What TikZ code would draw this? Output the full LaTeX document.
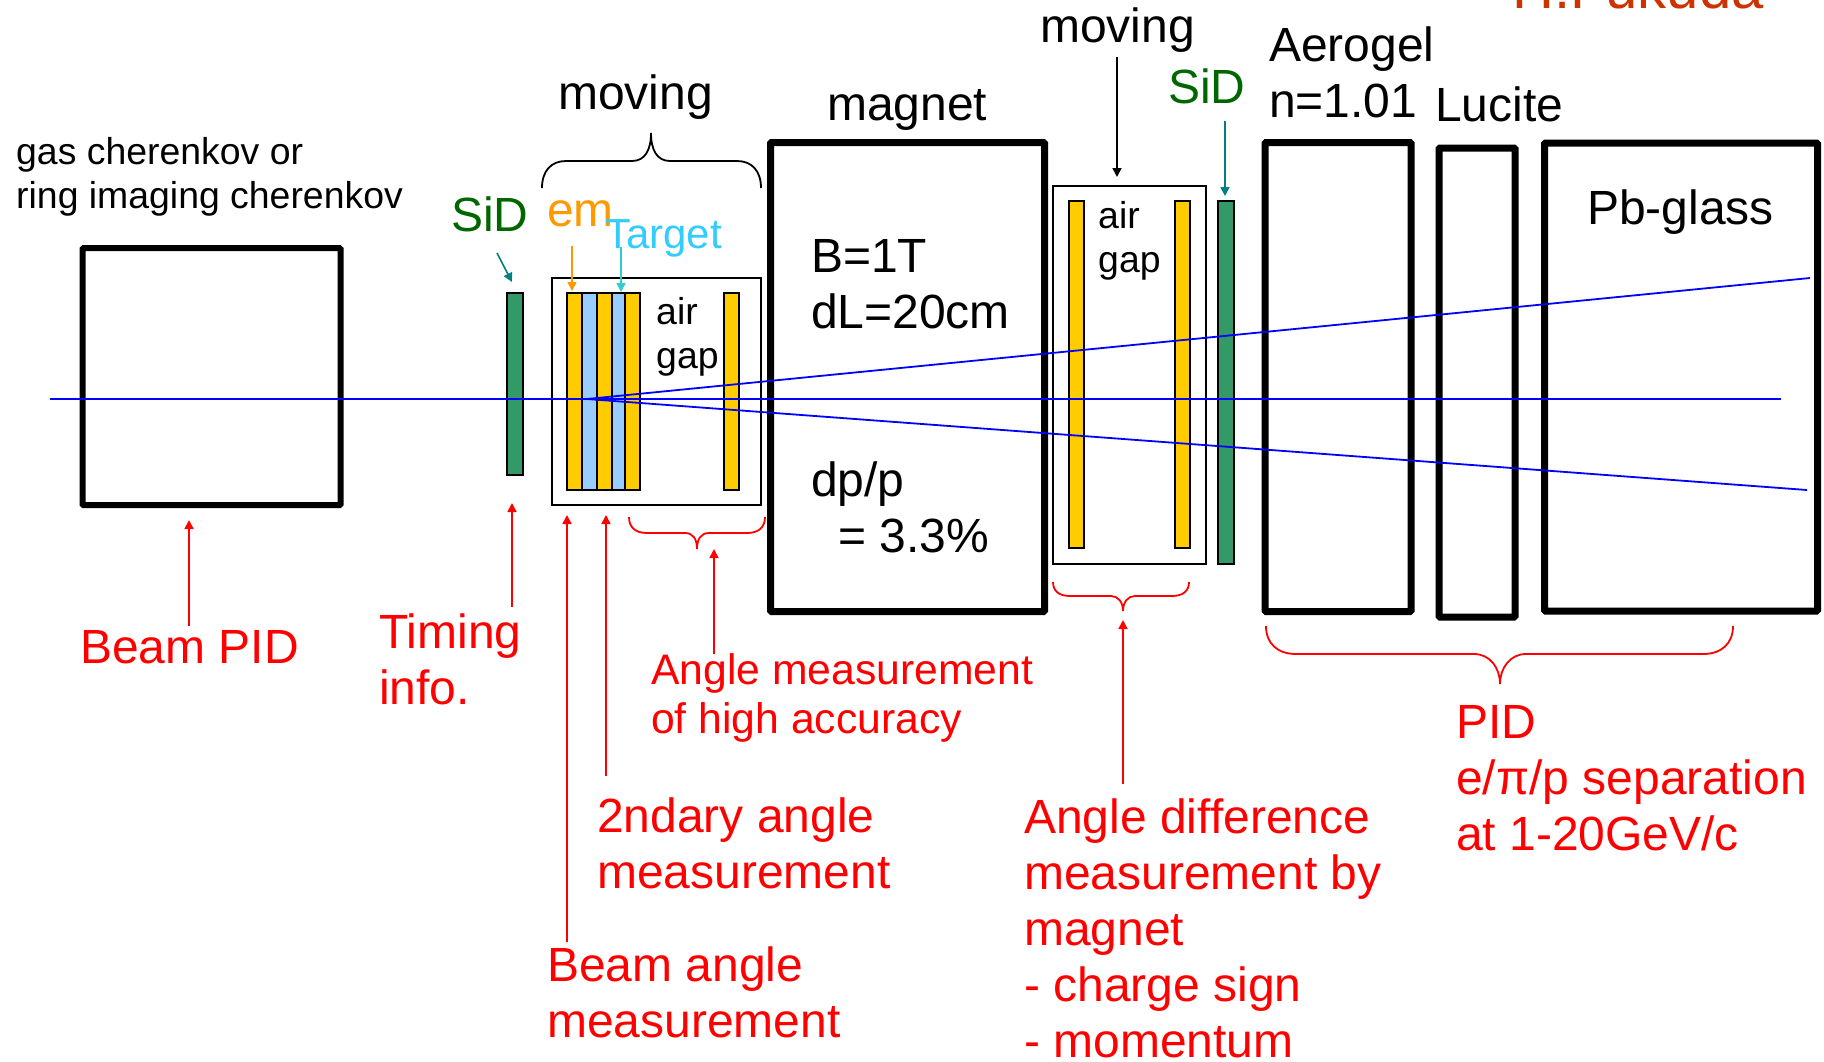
\documentclass[tikz,border=0pt]{standalone}
\usepackage{fontspec}
\setmainfont{Liberation Sans}
\usetikzlibrary{arrows.meta}
\definecolor{sidgreen}{HTML}{006600}
\definecolor{sidfill}{HTML}{339966}
\definecolor{plateyellow}{HTML}{FFCC00}
\definecolor{targetblue}{HTML}{99CCFF}
\definecolor{targettext}{HTML}{33CCFF}
\definecolor{emorange}{HTML}{FF9900}
\definecolor{arrowteal}{HTML}{008080}
\definecolor{arrowcyan}{HTML}{33CCCC}
\definecolor{authorred}{HTML}{CC3300}
\tikzset{
  detbox/.style={draw, line width=7pt, rounded corners=1pt, inner sep=0pt},
  gapbox/.style={draw, line width=1.8pt, inner sep=0pt},
  plate/.style={draw, line width=2pt, fill=plateyellow, inner sep=0pt, minimum width=15pt},
  tgt/.style={draw, line width=2pt, fill=targetblue, inner sep=0pt},
  sid/.style={draw, line width=2pt, fill=sidfill, inner sep=0pt, minimum width=16pt},
  beamline/.style={blue, line width=1.8pt},
  blacktext/.style={anchor=base west, inner sep=0pt, font=\fontsize{48}{56}\selectfont, align=left},
  smalltext/.style={anchor=base west, inner sep=0pt, font=\fontsize{37.4}{43.5}\selectfont, align=left},
  redtext/.style={anchor=base west, inner sep=0pt, text=red, font=\fontsize{48}{56}\selectfont, align=left},
  redsmall/.style={anchor=base west, inner sep=0pt, text=red, font=\fontsize{42.7}{49}\selectfont, align=left},
  redarrow/.style={red, line width=1.6pt, -{Triangle[length=9pt,width=9pt]}},
  thinarrow/.style={line width=1.6pt, -{Triangle[length=9pt,width=9pt]}},
  redbrace/.style={red, line width=1.8pt},
  blackbrace/.style={black, line width=1.8pt}
}
\begin{document}
\begin{tikzpicture}[x=1pt,y=-1pt]
\clip (0,0) rectangle (1824,1061);
% detectors
\node [detbox, line width=6pt, minimum width=258pt, minimum height=257pt] (beambox) at (211.5,376.5) {};
\node [detbox, minimum width=274pt, minimum height=469pt] (magnet) at (907.5,377) {};
\node [detbox, minimum width=146pt, minimum height=469pt] (aerogel) at (1338,377) {};
\node [detbox, minimum width=76pt, minimum height=469pt] (lucite) at (1477,382.5) {};
\node [detbox, minimum width=273pt, minimum height=468pt] (pbglass) at (1681,377) {};

% first gap
\node [gapbox, minimum width=209pt, minimum height=227pt] (gapa) at (656.5,391.5) {};
\node [sid, minimum height=182pt] (sida) at (514.5,384) {};
\node [plate, minimum height=197pt] (platea) at (574.5,391.5) {};
\node [tgt, minimum width=15pt, minimum height=197pt] (tgta) at (589.5,391.5) {};
\node [plate, minimum height=197pt] (plateb) at (604.5,391.5) {};
\node [tgt, minimum width=13pt, minimum height=197pt] (tgtb) at (618.5,391.5) {};
\node [plate, minimum height=197pt] (platec) at (632.5,391.5) {};
\node [plate, minimum height=197pt] (plated) at (731,391.5) {};

% second gap
\node [gapbox, minimum width=153pt, minimum height=378pt] (gapb) at (1129.5,375) {};
\node [plate, minimum height=347pt] (platee) at (1076.5,374.5) {};
\node [plate, minimum height=347pt] (platef) at (1182,374.5) {};
\node [sid, minimum height=363pt] (sidb) at (1226,382.5) {};

% beam and tracks
\coordinate (beamstart) at (50,399);
\coordinate (beamend) at (1781,399);
\coordinate (vertex) at (587,399);
\coordinate (trackup) at (1810,278);
\coordinate (trackdown) at (1807,490);
\draw [beamline] (beamstart) -- (beamend);
\draw [beamline] (vertex) -- (trackup);
\draw [beamline] (vertex) -- (trackdown);

% braces
\coordinate (bmovl) at (542,188);
\coordinate (bmovr) at (761,188);
\draw [blackbrace] (bmovl) .. controls (542,171) and (551,161) .. (566,161) -- (632,161) .. controls (645,161) and (651,150) .. (651,133) .. controls (651,150) and (657,161) .. (670,161) -- (737,161) .. controls (752,161) and (761,171) .. (bmovr);
\coordinate (bhighl) at (629,517);
\coordinate (bhighr) at (765,517);
\draw [redbrace] (bhighl) .. controls (629,527) and (635,533) .. (647,533) -- (685,533) .. controls (693,533) and (697,539) .. (697,549) .. controls (697,539) and (701,533) .. (709,533) -- (747,533) .. controls (759,533) and (765,527) .. (bhighr);
\coordinate (bdiffl) at (1053,582);
\coordinate (bdiffr) at (1189,582);
\draw [redbrace] (bdiffl) .. controls (1053,591) and (1059,596) .. (1070,596) -- (1111,596) .. controls (1118,596) and (1123,602) .. (1123,611) .. controls (1123,602) and (1128,596) .. (1135,596) -- (1172,596) .. controls (1183,596) and (1189,591) .. (bdiffr);
\coordinate (bpidl) at (1266,626);
\coordinate (bpidr) at (1733,626);
\draw [redbrace] (bpidl) .. controls (1266,644) and (1278,654) .. (1296,654) -- (1474,654) .. controls (1490,654) and (1500,668) .. (1500,684) .. controls (1500,668) and (1510,654) .. (1526,654) -- (1703,654) .. controls (1721,654) and (1733,644) .. (bpidr);

% upper labels
\node [smalltext] (gaslabel) at (16,208) {gas cherenkov or\\ring imaging cherenkov};
\node [blacktext] (movinga) at (558,109) {moving};
\node [blacktext] (movingb) at (1040,42) {moving};
\node [blacktext] (magnetlabel) at (827,120) {magnet};
\node [blacktext] (aerolabel) at (1269,117) {Aerogel\\n=1.01};
\node [blacktext] (lucitelabel) at (1435,121) {Lucite};
\node [blacktext] (pblabel) at (1587,224) {Pb-glass};
\node [blacktext, text=sidgreen] (sidlabela) at (451,231) {SiD};
\node [blacktext, text=sidgreen] (sidlabelb) at (1168,103) {SiD};
\node [blacktext, text=emorange] (emlabel) at (547,226) {em};
\node [blacktext, text=targettext, font=\fontsize{42}{50}\selectfont] (tgtlabel) at (605,248) {Target};
\node [smalltext] (aira) at (656,368) {air\\gap};
\node [smalltext] (airb) at (1098,272) {air\\gap};
\node [blacktext] (bfield) at (811,328) {B=1T\\dL=20cm};
\node [blacktext] (dplabel) at (811,552) {dp/p\\\hspace*{27pt}= 3.3\%};
\node [blacktext, text=authorred, font=\fontsize{58}{68}\selectfont] (author) at (1512,8) {H.Fukuda};

% lower labels
\node [redtext] (pidlabel) at (80,663) {Beam PID};
\node [redtext] (timing) at (379,704) {Timing\\info.};
\node [redsmall] (highacc) at (651,733) {Angle measurement\\of high accuracy};
\node [redtext] (second) at (597,888) {2ndary angle\\measurement};
\node [redtext] (beamangle) at (547,1037) {Beam angle\\measurement};
\node [redtext] (anglediff) at (1024,1057) {Angle difference\\measurement by\\magnet\\- charge sign\\- momentum};
\node [redtext] (pidsep) at (1456,850) {PID\\e/π/p separation\\at 1-20GeV/c};

% arrows
\coordinate (pidfrom) at (189,626);
\coordinate (pidto) at (189,520);
\draw [redarrow] (pidfrom) -- (pidto);
\coordinate (timefrom) at (512,607);
\coordinate (timeto) at (512,503);
\draw [redarrow] (timefrom) -- (timeto);
\coordinate (baffrom) at (567,942);
\coordinate (bato) at (567,515);
\draw [redarrow] (baffrom) -- (bato);
\coordinate (secfrom) at (606,776);
\coordinate (secto) at (606,515);
\draw [redarrow] (secfrom) -- (secto);
\coordinate (highfrom) at (714,654);
\coordinate (highto) at (714,549);
\draw [redarrow] (highfrom) -- (highto);
\coordinate (difffrom) at (1123,784);
\coordinate (diffto) at (1123,620);
\draw [redarrow] (difffrom) -- (diffto);

\coordinate (sidafrom) at (497,253);
\coordinate (sidato) at (512,282);
\draw [thinarrow, arrowteal] (sidafrom) -- (sidato);
\coordinate (sidbfrom) at (1225,121);
\coordinate (sidbto) at (1225,196);
\draw [thinarrow, arrowteal] (sidbfrom) -- (sidbto);
\coordinate (emfrom) at (572,246);
\coordinate (emto) at (572,291);
\draw [thinarrow, emorange] (emfrom) -- (emto);
\coordinate (tgtfrom) at (621,247);
\coordinate (tgtto) at (621,292);
\draw [thinarrow, arrowcyan] (tgtfrom) -- (tgtto);
\coordinate (movfrom) at (1117,57);
\coordinate (movto) at (1117,177);
\draw [thinarrow, black] (movfrom) -- (movto);
\end{tikzpicture}
\end{document}
